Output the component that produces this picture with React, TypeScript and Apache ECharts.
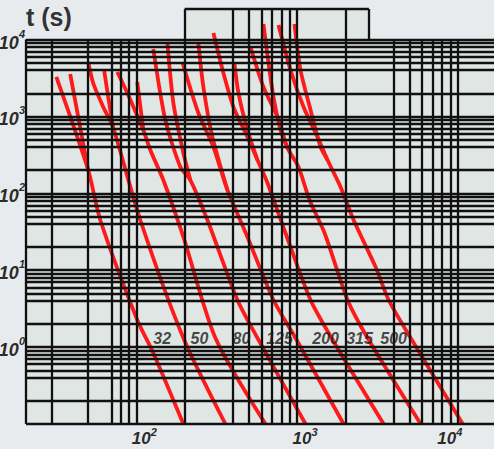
import React, { useEffect, useRef } from "react";
import * as echarts from "echarts";

// axis ranges (current in A, time in s)
const X_MIN = 20.6;
const X_MAX = 17800;
const Y_MIN = 0.1;
const Y_MAX = 25000;
const Y_PLOT_TOP = 10000;

// grid lines
const verticalGrid = [30, 50, 70, 80, 90, 100, 200, 400, 500, 600, 700, 800, 900, 1000, 2000, 4000, 5000, 6000, 7000, 8000, 9000, 10000];
const decades = [0.1, 1, 10, 100, 1000, 10000];
const minorSteps = [2, 4, 5, 6, 7, 8, 9];
const tabRange = [200, 2800];

// curve labels
const curveLabels = ["32", "50", "80", "125", "200", "315", "500"];
const labelCurrents = [145, 247, 451, 778, 1506, 2449, 3990];
const labelTime = 1.3;

// curves: [current A, time s]
const line1Main = [[31.8, 3263], [50.2, 201], [59.7, 45], [101.4, 2.25], [127.6, 0.839], [196.3, 0.1]];
const line1Branch = [[38.8, 3568], [50.2, 201]];
const line2Main = [[50.2, 5111], [53.9, 2726], [62.3, 1328], [71.9, 708], [105.9, 45], [196.3, 1.315], [358.5, 0.1]];
const line2Branch = [[63.2, 3904], [66.9, 1792], [71.9, 708]];
const line3Main = [[76.2, 3789], [87.9, 2021], [110.6, 667], [122.2, 366], [147.3, 149], [196.3, 27.1], [310.7, 1.315], [636.5, 0.1]];
const line3Branch = [[101.4, 2809], [110.6, 667]];
const line4Main = [[127.6, 7546], [151.6, 900], [188.0, 220], [217.0, 149], [277.0, 45.0], [425.9, 4.1], [567.5, 1.315], [1130, 0.1]];
const line4Branch = [[156.0, 9306], [170.1, 1497], [196.3, 335], [217.0, 149]];
const line5Main = [[193.5, 5111], [243.3, 1110], [301.9, 401], [369.0, 110.6], [491.7, 27.1], [713.7, 4.1], [978.8, 1.315], [1949, 0.1]];
const line5Branch = [[243.3, 9033], [261.5, 2418], [297.6, 541], [369.0, 110.6]];
const line6Main = [[301.9, 12190], [348.3, 3677], [401.8, 1328], [491.7, 541], [567.5, 271], [655, 136.4], [847.8, 30.5], [1214, 4.1], [1640, 1.315], [3458, 0.1]];
const line6Branch = [[407.9, 4960], [432.0, 2021], [491.7, 667], [567.5, 271]];
const line7Main = [[513.3, 8012], [618.1, 2418], [756, 984], [872.6, 389], [1022, 220], [1196, 82], [1484, 30.5], [2064, 4.1], [2749, 1.315], [5882, 0.1]];
const line7Branch = [[618.1, 15960], [664.4, 4960], [713.7, 1792], [789.4, 667], [872.6, 389]];
const line8Main = [[767, 15490], [911, 4023], [1098, 1328], [1342, 541], [1549, 271], [1866, 121], [2249, 45.0], [3084, 11.0], [3716, 4.1], [5096, 1.315], [10740, 0.1]];
const line8Branch = [[964.7, 15960], [1051, 4023], [1214, 1214], [1401, 401], [1549, 271]];

const curves = [
  line1Main, line1Branch, line2Main, line2Branch, line3Main, line3Branch, line4Main, line4Branch,
  line5Main, line5Branch, line6Main, line6Branch, line7Main, line7Branch, line8Main, line8Branch,
];

const FONT = "'Liberation Sans', Arial, sans-serif";
const TEXT_COLOR = "#2b2b2b";

const baseTok = { fontWeight: "bold", fontStyle: "italic", color: TEXT_COLOR, fontFamily: FONT };

function xLabel(v: number) {
  const e = Math.log10(v);
  const r = Math.round(e);
  if (Math.abs(e - r) > 1e-6 || r < 2 || r > 4) return "";
  return r === 4 ? `{b|10}{sr|${r}}` : `{bl|10}{s|${r}}`;
}

function yLabel(v: number) {
  const e = Math.log10(v);
  const r = Math.round(e);
  if (Math.abs(e - r) > 1e-6 || r < 0 || r > 4) return "";
  return `{b|10}{s|${r}}`;
}

const xRich = {
  b: { ...baseTok, fontSize: 17 },
  bl: { ...baseTok, fontSize: 17, padding: [0, 0, 0, 16] },
  s: { ...baseTok, fontSize: 11, padding: [0, 0, 13, 0] },
  sr: { ...baseTok, fontSize: 11, padding: [0, 16, 13, 0] },
};

const yRich = {
  b: { ...baseTok, fontSize: 18, padding: [6, 0, 0, 0] },
  s: { ...baseTok, fontSize: 11, padding: [0, 0, 12, 0] },
};

export default function App() {
  const ref = useRef<HTMLDivElement>(null);
  useEffect(() => {
    if (!ref.current) return;
    const chart = echarts.init(ref.current, undefined, { renderer: "svg" });

    const hLines: number[] = [...decades];
    decades.slice(0, -1).forEach((d) => minorSteps.forEach((m) => hLines.push(d * m)));

    const gridLineData: any[] = [];
    hLines.forEach((v) => gridLineData.push([{ coord: [X_MIN, v] }, { coord: [X_MAX, v] }]));
    verticalGrid.forEach((v) => {
      const top = v >= tabRange[0] && v <= tabRange[1] ? Y_MAX : Y_PLOT_TOP;
      gridLineData.push([{ coord: [v, Y_MIN] }, { coord: [v, top] }]);
    });
    gridLineData.push([{ coord: [X_MIN, Y_MIN] }, { coord: [X_MIN, Y_PLOT_TOP] }]);
    gridLineData.push([{ coord: [tabRange[0], Y_MAX] }, { coord: [tabRange[1], Y_MAX] }]);
    gridLineData.push([{ coord: [tabRange[1], Y_PLOT_TOP] }, { coord: [tabRange[1], Y_MAX] }]);

    const option: any = {
      animation: false,
      backgroundColor: "#e8ebee",
      title: {
        text: "t (s)",
        left: 21,
        top: -1,
        textStyle: { fontSize: 25, fontWeight: "bold", color: "#333", fontFamily: FONT },
      },
      grid: { left: 26, right: -4, top: 9, bottom: 25, outerBoundsMode: "none", containLabel: false },
      xAxis: {
        type: "log",
        logBase: 10,
        min: X_MIN,
        max: X_MAX,
        axisLine: { show: false },
        axisTick: { show: false },
        splitLine: { show: false },
        axisLabel: {
          margin: 2,
          showMinLabel: false,
          showMaxLabel: false,
          formatter: xLabel,
          rich: xRich,
        },
      },
      yAxis: {
        type: "log",
        logBase: 10,
        min: Y_MIN,
        max: Y_MAX,
        axisLine: { show: false },
        axisTick: { show: false },
        splitLine: { show: false },
        axisLabel: {
          margin: 1,
          showMinLabel: false,
          showMaxLabel: false,
          formatter: yLabel,
          rich: yRich,
        },
      },
      series: [
        {
          type: "line",
          name: "grid",
          data: [[X_MIN, Y_MIN]],
          showSymbol: false,
          symbol: "none",
          lineStyle: { width: 0 },
          silent: true,
          clip: false,
          z: 1,
          markArea: {
            silent: true,
            itemStyle: { color: "#dfe6e3", borderWidth: 0 },
            data: [
              [{ coord: [X_MIN, Y_MIN] }, { coord: [X_MAX, Y_PLOT_TOP] }],
              [{ coord: [tabRange[0], Y_PLOT_TOP] }, { coord: [tabRange[1], Y_MAX] }],
            ],
          },
          markLine: {
            silent: true,
            symbol: ["none", "none"],
            label: { show: false },
            lineStyle: { color: "#111", width: 2.3, type: "solid" },
            emphasis: { disabled: true },
            data: gridLineData,
          },
        },
        ...curves.map((c, i) => ({
          type: "line",
          name: `curve ${Math.floor(i / 2) + 1}${i % 2 ? " b" : ""}`,
          data: c,
          showSymbol: false,
          symbol: "none",
          smooth: 0.25,
          silent: true,
          z: 3,
          lineStyle: { color: "#ff1a1a", width: 3.8 },
        })),
        {
          type: "scatter",
          name: "labels",
          symbolSize: 1,
          itemStyle: { color: "transparent" },
          silent: true,
          z: 5,
          data: labelCurrents.map((x, i) => ({ value: [x, labelTime], name: curveLabels[i] })),
          label: {
            show: true,
            position: "inside",
            formatter: "{b}",
            fontSize: 16,
            fontWeight: "bold",
            fontStyle: "italic",
            color: "#1a1a1a",
            fontFamily: FONT,
          },
        },
      ],
    };
    chart.setOption(option);
    return () => chart.dispose();
  }, []);
  return <div ref={ref} style={{ position: "absolute", left: 0, top: 0, width: 494, height: 449 }} />;
}
